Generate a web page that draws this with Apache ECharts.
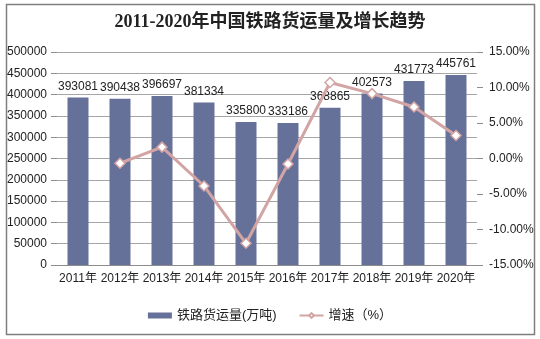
<!DOCTYPE html>
<html><head><meta charset="utf-8">
<script src="https://cdn.jsdelivr.net/npm/echarts@6/dist/echarts.min.js"></script>
<style>html,body{margin:0;padding:0;background:#fff}#c{width:540px;height:339px}</style>
</head><body><div id="c"></div>
<script>
const categories = ['2011年','2012年','2013年','2014年','2015年','2016年','2017年','2018年','2019年','2020年'];
const freight = [393081, 390438, 396697, 381334, 335800, 333186, 368865, 402573, 431773, 445761];
const growth = [null, -0.67, 1.60, -3.87, -11.94, -0.78, 10.71, 9.14, 7.25, 3.24];
const titleText = '2011-2020年中国铁路货运量及增长趋势';

const chart = echarts.init(document.getElementById('c'));
const txt = {color:'#222', fontFamily:'Liberation Sans, Arial, Noto Sans CJK SC', fontSize:12};
chart.setOption({
  animation:false,
  graphic:[{type:'rect', shape:{x:6.5,y:4.5,width:528,height:330}, style:{fill:'none', stroke:'#7f7f7f', lineWidth:1.5}}],
  title:{text:titleText, left:'center', top:8, textStyle:{fontFamily:'Liberation Serif, Noto Sans CJK SC', fontWeight:'bold', fontSize:18, color:'#222'}},
  grid:{left:57, right:63, top:52, bottom:74},
  legend:{bottom:12, left:'center', itemGap:22, textStyle:Object.assign({}, txt, {fontSize:13}),
    data:[{name:'铁路货运量(万吨)', icon:'rect'}, {name:'增速（%）'}],
    itemWidth:24, itemHeight:6},
  xAxis:{type:'category', data:categories,
    axisLine:{lineStyle:{color:'#8c8c8c'}}, axisTick:{lineStyle:{color:'#8c8c8c'}},
    axisLabel:Object.assign({}, txt, {margin:8, interval:0})},
  yAxis:[
    {type:'value', min:0, max:500000, interval:50000,
      axisLine:{show:false}, axisTick:{show:true, length:6, lineStyle:{color:'#8c8c8c'}},
      splitLine:{lineStyle:{color:'#a6a6a6'}}, axisLabel:Object.assign({}, txt, {margin:10, formatter:v=>String(v)})},
    {type:'value', min:-15, max:15, interval:5,
      axisLine:{show:false}, axisTick:{show:true, length:6, lineStyle:{color:'#8c8c8c'}},
      splitLine:{show:false}, axisLabel:Object.assign({}, txt, {margin:12, formatter:v=>v.toFixed(2)+'%'})}
  ],
  series:[
    {name:'铁路货运量(万吨)', type:'bar', data:freight, barWidth:'50%',
      itemStyle:{color:'#667199'},
      label:{show:true, position:'top', distance:5, color:'#222', fontFamily:'Liberation Sans, Arial', fontSize:12}},
    {name:'增速（%）', type:'line', yAxisIndex:1, data:growth,
      lineStyle:{color:'#d3a4a4', width:3}, itemStyle:{color:'#fff', borderColor:'#d3a4a4', borderWidth:1.5},
      symbol:'diamond', symbolSize:10, showSymbol:true, connectNulls:false}
  ]
});
</script></body></html>
